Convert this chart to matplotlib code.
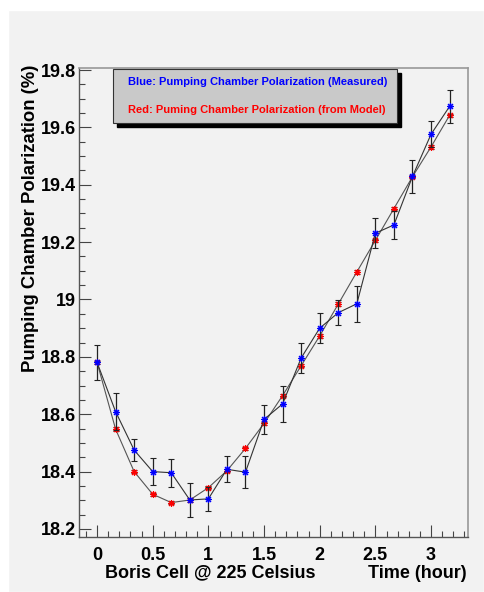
import numpy as np
import matplotlib
matplotlib.use('Agg')
import matplotlib.pyplot as plt
from matplotlib.patches import Rectangle
from matplotlib.ticker import MultipleLocator

plt.rcParams['font.family'] = ['Liberation Sans', 'DejaVu Sans']
plt.rcParams['font.weight'] = 'bold'

# time in hours, one reading every 10 minutes
time_h = [0, 1/6, 2/6, 3/6, 4/6, 5/6, 1.0, 7/6, 8/6, 9/6, 10/6, 11/6, 2.0,
          13/6, 14/6, 15/6, 16/6, 17/6, 3.0, 19/6]

# measured pumping chamber polarization (%)
blue_pol = [18.781, 18.609, 18.475, 18.400, 18.396, 18.301, 18.305, 18.408,
            18.398, 18.582, 18.636, 18.796, 18.900, 18.954, 18.985, 19.231,
            19.260, 19.429, 19.576, 19.673]
blue_err = [0.061, 0.064, 0.037, 0.048, 0.049, 0.060, 0.042, 0.046, 0.056,
            0.050, 0.063, 0.052, 0.052, 0.044, 0.062, 0.053, 0.050, 0.058,
            0.046, 0.058]

# model pumping chamber polarization (%)
red_pol = [18.781, 18.548, 18.400, 18.321, 18.292, 18.301, 18.344, 18.403,
           18.481, 18.568, 18.665, 18.769, 18.873, 18.984, 19.096, 19.206,
           19.317, 19.428, 19.532, 19.642]
red_err = [0.006] * len(red_pol)

W, H = 484, 592
fig = plt.figure(figsize=(W / 100, H / 100), dpi=100, facecolor='white')
fig.patches.append(Rectangle((8 / W, 0), 1 - 8 / W, 1 - 10 / H, transform=fig.transFigure,
                             facecolor='#f2f2f2', edgecolor='white', lw=1, zorder=-10))

ax = fig.add_axes([79 / W, 1 - 537 / H, (468 - 79) / W, (537 - 68) / H])
ax.set_facecolor('#f2f2f2')

star = (8, 2, 0)
ax.errorbar(time_h, red_pol, yerr=red_err, fmt='-', color='#555555', lw=0.8,
            ecolor='#333333', elinewidth=0.8, capsize=2, marker=star, ms=5,
            mec='red', mfc='red', mew=0.8, zorder=2)
ax.errorbar(time_h, blue_pol, yerr=blue_err, fmt='-', color='#333333', lw=0.8,
            ecolor='#222222', elinewidth=0.9, capsize=2, marker=star, ms=5,
            mec='blue', mfc='blue', mew=0.8, zorder=3)

ax.set_xlim(-0.162, 3.332)
ax.set_ylim(18.172, 19.807)
ax.xaxis.set_minor_locator(MultipleLocator(0.1))
ax.yaxis.set_minor_locator(MultipleLocator(0.05))
ax.set_xticks([0, 0.5, 1, 1.5, 2, 2.5, 3])
ax.set_xticklabels(['0', '0.5', '1', '1.5', '2', '2.5', '3'])
ax.set_yticks([18.2, 18.4, 18.6, 18.8, 19.0, 19.2, 19.4, 19.6, 19.8])
ax.set_yticklabels(['18.2', '18.4', '18.6', '18.8', '19', '19.2', '19.4', '19.6', '19.8'])
ax.tick_params(which='both', direction='in', color='#444444', labelsize=13, top=False, right=False)
ax.tick_params(which='major', length=8.5, width=0.8)
ax.tick_params(which='minor', length=4.3, width=0.8)
ax.tick_params(axis='x', pad=7)
ax.tick_params(axis='y', pad=2)
for lab in ax.get_xticklabels() + ax.get_yticklabels():
    lab.set_fontweight('bold')

for side in ['left', 'bottom']:
    ax.spines[side].set_color('#555555')
    ax.spines[side].set_linewidth(1.0)
for side in ['top', 'right']:
    ax.spines[side].set_color('#999999')
    ax.spines[side].set_linewidth(1.2)

# axis titles (ROOT style, right aligned)
fig.text(31 / W, 1 - 65 / H, 'Pumping Chamber Polarization (%)', rotation=90,
         ha='center', va='top', fontsize=13.3, fontweight='bold')
fig.text(105 / W, 1 - 573 / H, 'Boris Cell @ 225 Celsius', ha='left', va='center',
         fontsize=13, fontweight='bold')
fig.text(467 / W, 1 - 573 / H, 'Time (hour)', ha='right', va='center',
         fontsize=13, fontweight='bold')

# legend box with shadow
bx, by, bw, bh = 113, 69, 284, 54
fig.patches.append(Rectangle(((bx + 4) / W, 1 - (by + bh + 4) / H), bw / W, bh / H,
                             transform=fig.transFigure, facecolor='black', edgecolor='black', zorder=5))
fig.patches.append(Rectangle((bx / W, 1 - (by + bh) / H), bw / W, bh / H,
                             transform=fig.transFigure, facecolor='#c9c9c9', edgecolor='#333333',
                             lw=0.8, zorder=6))
fig.text(128 / W, 1 - 82 / H, 'Blue: Pumping Chamber Polarization (Measured)', color='blue',
         ha='left', va='center', fontsize=8.0, fontweight='bold', zorder=7)
fig.text(128 / W, 1 - 110 / H, 'Red: Puming Chamber Polarization (from Model)', color='red',
         ha='left', va='center', fontsize=8.0, fontweight='bold', zorder=7)

fig.savefig('out.png', dpi=100, facecolor=fig.get_facecolor())
